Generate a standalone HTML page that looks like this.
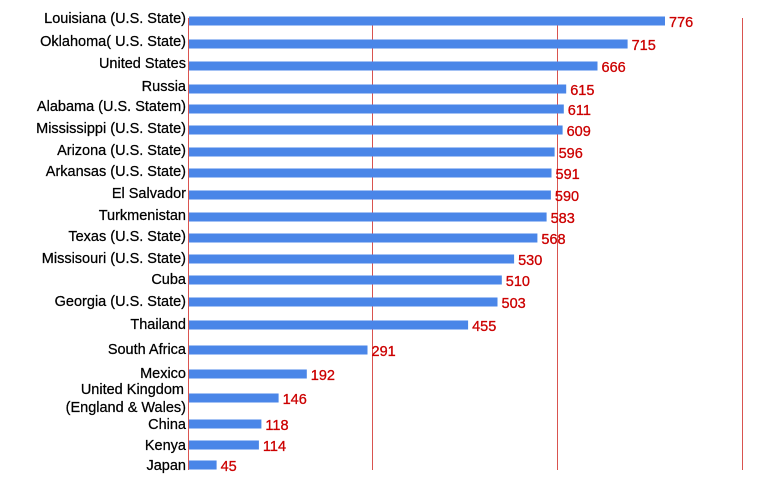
<!DOCTYPE html><html><head><style>body{margin:0;width:768px;height:478px;background:#fff;overflow:hidden}</style></head><body>
<svg width="768" height="478" xmlns="http://www.w3.org/2000/svg" font-family="Liberation Sans, sans-serif">
<g stroke="#d9534f" stroke-width="1">
<line x1="188.5" y1="18" x2="188.5" y2="470"/><line x1="372.5" y1="18" x2="372.5" y2="470"/><line x1="557.5" y1="18" x2="557.5" y2="470"/><line x1="742.5" y1="18" x2="742.5" y2="470"/>
</g>
<g id="g"></g>
</svg>
<script>
var d=[["Louisiana (U.S. State)",776,21,2],["Oklahoma( U.S. State)",715,44,2],["United States",666,66,2],["Russia",615,89,2],["Alabama (U.S. Statem)",611,109,2],["Mississippi (U.S. State)",609,130,3],["Arizona (U.S. State)",596,152,3],["Arkansas (U.S. State)",591,173,3],["El Salvador",590,195,3],["Turkmenistan",583,217,3],["Texas (U.S. State)",568,238,3],["Missisouri (U.S. State)",530,259,4],["Cuba",510,280,4],["Georgia (U.S. State)",503,302,4],["Thailand",455,325,4],["South Africa",291,350,4],["Mexico",192,374,4],["UK",146,398,0],["China",118,424,5],["Kenya",114,445,5],["Japan",45,465,5]];
var s="";d.forEach(function(r){var w=r[1]*0.6134,y=r[2];
s+='<rect x="189" y="'+(y-4.5)+'" width="'+w.toFixed(1)+'" height="9" fill="#4a86e8"/>';
s+='<text x="'+(193+w).toFixed(1)+'" y="'+(y+6)+'" font-size="14.5" fill="#cc0000" stroke="#cc0000" stroke-width="0.3">'+r[1]+'</text>';
var a=' font-size="14.5" text-anchor="end" stroke="#000" stroke-width="0.25"';
if(r[0]=="UK"){s+='<text x="184" y="'+(y-4)+'"'+a+'>United Kingdom</text><text x="186" y="'+(y+14)+'"'+a+'>(England &amp; Wales)</text>';}
else s+='<text x="186" y="'+(y+r[3])+'"'+a+'>'+r[0]+'</text>';});
document.getElementById("g").innerHTML=s;
</script>
</body></html>
